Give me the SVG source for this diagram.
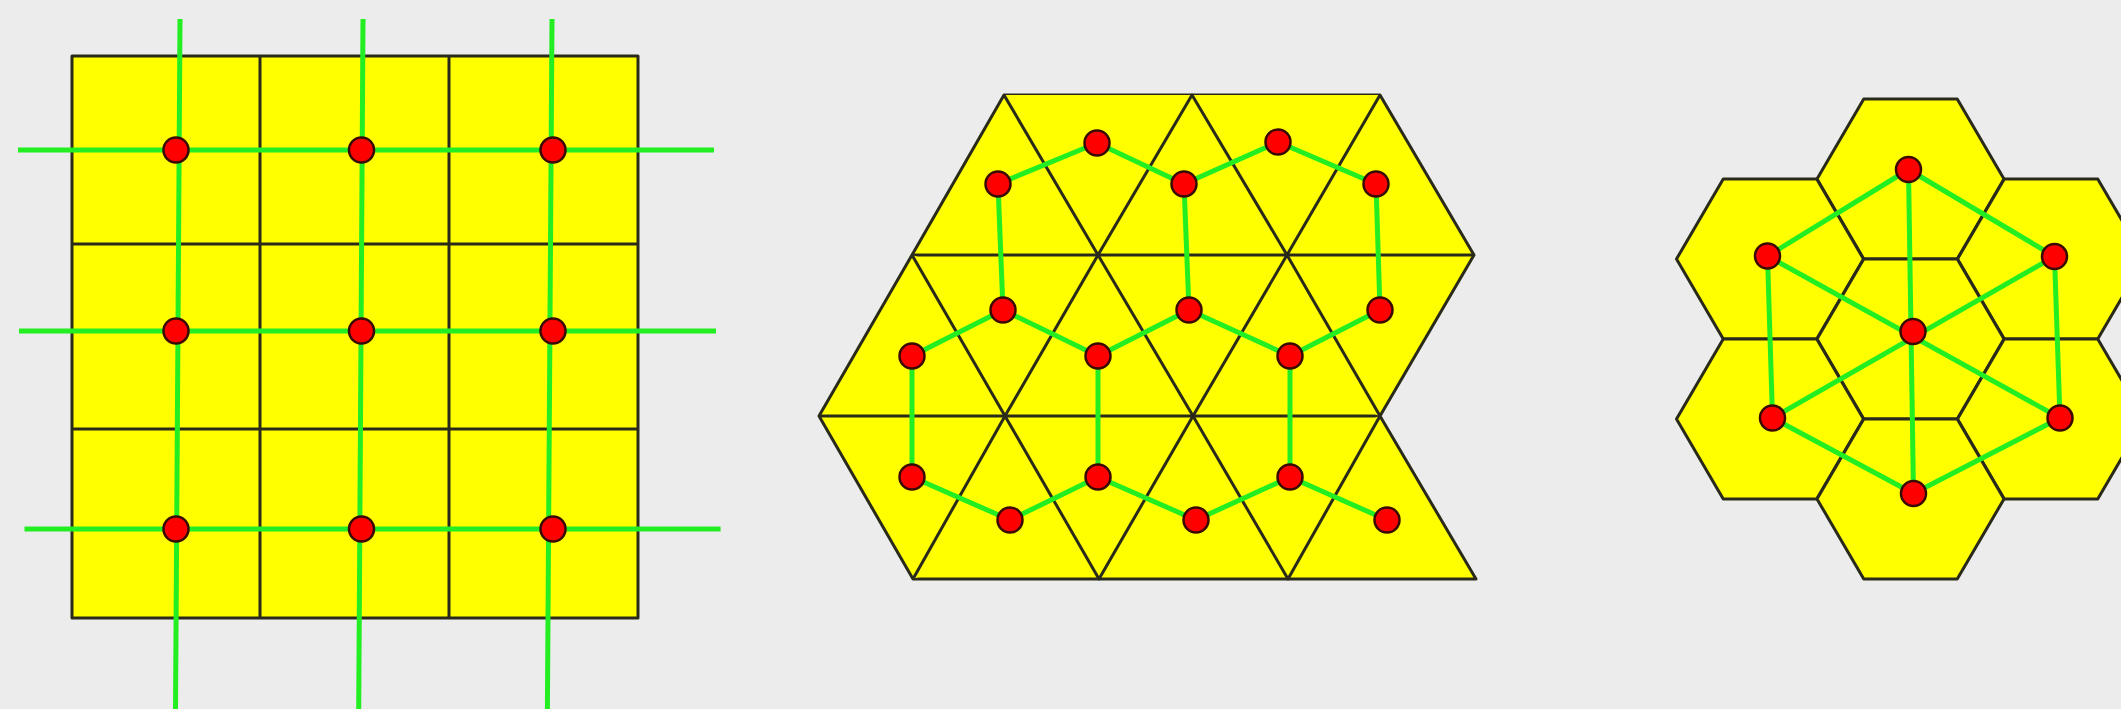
<svg xmlns="http://www.w3.org/2000/svg" width="2121" height="709" viewBox="0 0 2121 709">
<defs>
<style>
.cell{fill:#ffff00;stroke:#2a2a1a;stroke-width:3;stroke-linejoin:round}
.edge{stroke:#22ee22;stroke-width:5;fill:none;stroke-linecap:butt;stroke-linejoin:round}
.dot{fill:#ff0000;stroke:#3a0a00;stroke-width:2.5}
</style>
</defs>
<rect x="0" y="0" width="2121" height="709" fill="#ececec"/>

<!-- Square lattice -->
<g id="square-lattice">
  <g id="square-cells">
    <rect class="cell" x="72" y="56" width="566" height="562"/>
    <line class="cell" x1="260" y1="56" x2="260" y2="618"/>
    <line class="cell" x1="449" y1="56" x2="449" y2="618"/>
    <line class="cell" x1="72" y1="244" x2="638" y2="244"/>
    <line class="cell" x1="72" y1="429" x2="638" y2="429"/>
  </g>
  <g id="square-connectors">
    <line class="edge" x1="180" y1="19" x2="175.5" y2="709"/>
    <line class="edge" x1="363" y1="19" x2="358.7" y2="709"/>
    <line class="edge" x1="552" y1="19" x2="547.4" y2="709"/>
    <line class="edge" x1="18" y1="150" x2="714" y2="150"/>
    <line class="edge" x1="19" y1="331" x2="716" y2="331"/>
    <line class="edge" x1="24.5" y1="529" x2="720.6" y2="529"/>
  </g>
  <g id="square-nodes">
    <circle id="s11" class="dot" cx="176" cy="150" r="12.5"/>
    <circle id="s12" class="dot" cx="361.5" cy="150" r="12.5"/>
    <circle id="s13" class="dot" cx="553" cy="150" r="12.5"/>
    <circle id="s21" class="dot" cx="176" cy="331" r="12.5"/>
    <circle id="s22" class="dot" cx="361.5" cy="331" r="12.5"/>
    <circle id="s23" class="dot" cx="553" cy="331" r="12.5"/>
    <circle id="s31" class="dot" cx="176" cy="529" r="12.5"/>
    <circle id="s32" class="dot" cx="361.5" cy="529" r="12.5"/>
    <circle id="s33" class="dot" cx="553" cy="529" r="12.5"/>
  </g>
</g>

<!-- Triangular lattice -->
<g id="triangle-lattice">
  <g id="triangle-cells">
    <polygon class="cell" points="1004,95 1380,95 1474,255 1380,416 1476,579 913,579 819,416 912,255"/>
    <polyline class="cell" fill="none" points="912,255 1474,255"/>
    <polyline class="cell" fill="none" points="819,416 1380,416"/>
    <polyline class="cell" fill="none" points="1004,95 1098,255 1192,95 1287,255 1380,95"/>
    <polyline class="cell" fill="none" points="912,255 1005,416 1098,255 1193,416 1287,255 1380,416"/>
    <polyline class="cell" fill="none" points="913,579 1005,416 1099,579 1193,416 1288,579 1380,416"/>
  </g>
  <g id="triangle-connectors">
    <polyline class="edge" points="998,184 1097,143 1184,184 1278,142 1376,184"/>
    <line class="edge" x1="998" y1="184" x2="1003" y2="310"/>
    <line class="edge" x1="1184" y1="184" x2="1189" y2="310"/>
    <line class="edge" x1="1376" y1="184" x2="1380" y2="310"/>
    <polyline class="edge" points="912,356 1003,310 1098,356 1189,310 1290,356 1380,310"/>
    <line class="edge" x1="912" y1="356" x2="912" y2="477"/>
    <line class="edge" x1="1098" y1="356" x2="1098" y2="477"/>
    <line class="edge" x1="1290" y1="356" x2="1290" y2="477"/>
    <polyline class="edge" points="912,477 1010,520 1098,477 1196,520 1290,477 1387,520"/>
  </g>
  <g id="triangle-nodes">
    <circle class="dot" cx="1097" cy="143" r="12.5"/>
    <circle class="dot" cx="1278" cy="142" r="12.5"/>
    <circle class="dot" cx="998" cy="184" r="12.5"/>
    <circle class="dot" cx="1184" cy="184" r="12.5"/>
    <circle class="dot" cx="1376" cy="184" r="12.5"/>
    <circle class="dot" cx="1003" cy="310" r="12.5"/>
    <circle class="dot" cx="1189" cy="310" r="12.5"/>
    <circle class="dot" cx="1380" cy="310" r="12.5"/>
    <circle class="dot" cx="912" cy="356" r="12.5"/>
    <circle class="dot" cx="1098" cy="356" r="12.5"/>
    <circle class="dot" cx="1290" cy="356" r="12.5"/>
    <circle class="dot" cx="912" cy="477" r="12.5"/>
    <circle class="dot" cx="1098" cy="477" r="12.5"/>
    <circle class="dot" cx="1290" cy="477" r="12.5"/>
    <circle class="dot" cx="1010" cy="520" r="12.5"/>
    <circle class="dot" cx="1196" cy="520" r="12.5"/>
    <circle class="dot" cx="1387" cy="520" r="12.5"/>
  </g>
</g>

<!-- Hexagonal lattice -->
<g id="hex-lattice">
  <g id="hex-cells">
    <polygon id="hex-top" class="cell" points="1817,179 1863.75,99 1957.25,99 2004,179 1957.25,259 1863.75,259"/>
    <polygon id="hex-ul" class="cell" points="1676.5,259 1723.25,179 1816.75,179 1863.5,259 1816.75,339 1723.25,339"/>
    <polygon id="hex-ur" class="cell" points="1957.5,259 2004.25,179 2097.75,179 2144.5,259 2097.75,339 2004.25,339"/>
    <polygon id="hex-center" class="cell" points="1817,339 1863.75,259 1957.25,259 2004,339 1957.25,419 1863.75,419"/>
    <polygon id="hex-ll" class="cell" points="1676.5,419 1723.25,339 1816.75,339 1863.5,419 1816.75,499 1723.25,499"/>
    <polygon id="hex-lr" class="cell" points="1957.5,419 2004.25,339 2097.75,339 2144.5,419 2097.75,499 2004.25,499"/>
    <polygon id="hex-bottom" class="cell" points="1817,499 1863.75,419 1957.25,419 2004,499 1957.25,579 1863.75,579"/>
  </g>
  <g id="hex-connectors">
    <polygon class="edge" points="1908.5,169.5 1767.5,256 1772.5,418 1913.5,493.5 2060,418 2054.5,256.5"/>
    <line class="edge" x1="1908.5" y1="169.5" x2="1913.5" y2="493.5"/>
    <line class="edge" x1="1767.5" y1="256" x2="2060" y2="418"/>
    <line class="edge" x1="2054.5" y1="256.5" x2="1772.5" y2="418"/>
  </g>
  <g id="hex-nodes">
    <circle class="dot" cx="1908.5" cy="169.5" r="12.5"/>
    <circle class="dot" cx="1767.5" cy="256" r="12.5"/>
    <circle class="dot" cx="2054.5" cy="256.5" r="12.5"/>
    <circle class="dot" cx="1913" cy="331.5" r="12.5"/>
    <circle class="dot" cx="1772.5" cy="418" r="12.5"/>
    <circle class="dot" cx="2060" cy="418" r="12.5"/>
    <circle class="dot" cx="1913.5" cy="493.5" r="12.5"/>
  </g>
</g>
</svg>
